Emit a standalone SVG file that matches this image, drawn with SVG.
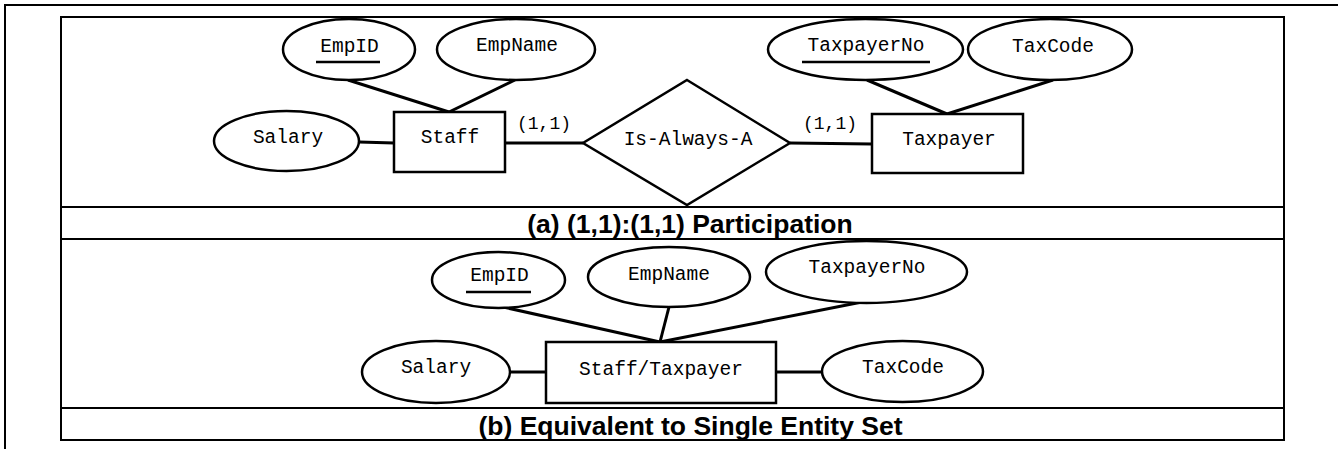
<svg xmlns="http://www.w3.org/2000/svg" width="1338" height="449" viewBox="0 0 1338 449">
<style>
.frame{fill:none;stroke:#000;stroke-width:2}
.shape{fill:#fff;stroke:#000;stroke-width:2.5}
.conn{fill:none;stroke:#000;stroke-width:3}
.t{font-family:"Liberation Mono","DejaVu Sans Mono",monospace;font-size:19.5px;fill:#000;text-anchor:middle}
.card{font-family:"Liberation Mono","DejaVu Sans Mono",monospace;font-size:18px;fill:#000;text-anchor:middle}
.cap{font-family:"Liberation Sans",Arial,sans-serif;font-size:26.5px;font-weight:bold;fill:#000;text-anchor:middle}
.ul{stroke:#000;stroke-width:2.5}
</style>
<rect width="1338" height="449" fill="#fff"/>
<g id="frames">
<path class="frame" d="M5,449 V5 H1338"/>
<rect class="frame" x="61" y="17" width="1223" height="423"/>
<line class="frame" x1="61" y1="207" x2="1284" y2="207"/>
<line class="frame" x1="61" y1="239" x2="1284" y2="239"/>
<line class="frame" x1="61" y1="408" x2="1284" y2="408"/>
</g>
<g id="connectors">
<line class="conn" x1="348" y1="80" x2="449" y2="112"/>
<line class="conn" x1="515" y1="80" x2="449" y2="112"/>
<line class="conn" x1="359" y1="142" x2="394" y2="143"/>
<line class="conn" x1="505" y1="143" x2="583" y2="143"/>
<line class="conn" x1="790" y1="143" x2="872" y2="144"/>
<line class="conn" x1="867" y1="80" x2="947" y2="114"/>
<line class="conn" x1="1053" y1="80" x2="947" y2="114"/>
<line class="conn" x1="503" y1="307" x2="660" y2="342"/>
<line class="conn" x1="669" y1="307" x2="660" y2="342"/>
<line class="conn" x1="862" y1="302" x2="660" y2="342"/>
<line class="conn" x1="510" y1="372" x2="546" y2="372"/>
<line class="conn" x1="776" y1="372" x2="822" y2="372"/>
</g>
<g id="a-empid"><ellipse class="shape" cx="349" cy="49.5" rx="66" ry="30.5"/><text class="t" x="349.5" y="52">EmpID</text><line class="ul" x1="316" y1="62" x2="380" y2="62"/></g>
<g id="a-empname"><ellipse class="shape" cx="516" cy="49.5" rx="79" ry="30.5"/><text class="t" x="517" y="51">EmpName</text></g>
<g id="a-salary"><ellipse class="shape" cx="286.5" cy="141" rx="72.5" ry="30"/><text class="t" x="288" y="143">Salary</text></g>
<g id="a-staff"><rect class="shape" x="394" y="112" width="111" height="60"/><text class="t" x="450" y="143">Staff</text></g>
<g id="a-rel"><polygon class="shape" points="687,80 790,143 687,205 583,143"/><text class="t" x="688" y="145">Is-Always-A</text></g>
<g id="a-card1"><text class="card" x="544" y="129">(1,1)</text></g>
<g id="a-card2"><text class="card" x="830" y="129">(1,1)</text></g>
<g id="a-taxpayer"><rect class="shape" x="872" y="114" width="151" height="59"/><text class="t" x="949" y="145">Taxpayer</text></g>
<g id="a-taxpayerno"><ellipse class="shape" cx="865.5" cy="49.5" rx="97.5" ry="30.5"/><text class="t" x="866" y="51">TaxpayerNo</text><line class="ul" x1="802" y1="62" x2="930" y2="62"/></g>
<g id="a-taxcode"><ellipse class="shape" cx="1050" cy="49.5" rx="82" ry="30.5"/><text class="t" x="1053" y="52">TaxCode</text></g>
<g id="cap-a"><text class="cap" x="690" y="233">(a) (1,1):(1,1) Participation</text></g>
<g id="b-empid"><ellipse class="shape" cx="498.5" cy="280" rx="66.5" ry="28"/><text class="t" x="499.5" y="281">EmpID</text><line class="ul" x1="466" y1="292" x2="531" y2="292"/></g>
<g id="b-empname"><ellipse class="shape" cx="669" cy="277" rx="81" ry="30"/><text class="t" x="669" y="280">EmpName</text></g>
<g id="b-taxpayerno"><ellipse class="shape" cx="866.5" cy="272" rx="100.5" ry="31"/><text class="t" x="867" y="273">TaxpayerNo</text></g>
<g id="b-salary"><ellipse class="shape" cx="436" cy="372" rx="74" ry="31"/><text class="t" x="436" y="373">Salary</text></g>
<g id="b-entity"><rect class="shape" x="546" y="342" width="230" height="61"/><text class="t" x="661" y="375">Staff/Taxpayer</text></g>
<g id="b-taxcode"><ellipse class="shape" cx="902.5" cy="371.5" rx="80.5" ry="30.5"/><text class="t" x="903" y="373">TaxCode</text></g>
<g id="cap-b"><text class="cap" x="690.5" y="435">(b) Equivalent to Single Entity Set</text></g>
</svg>
